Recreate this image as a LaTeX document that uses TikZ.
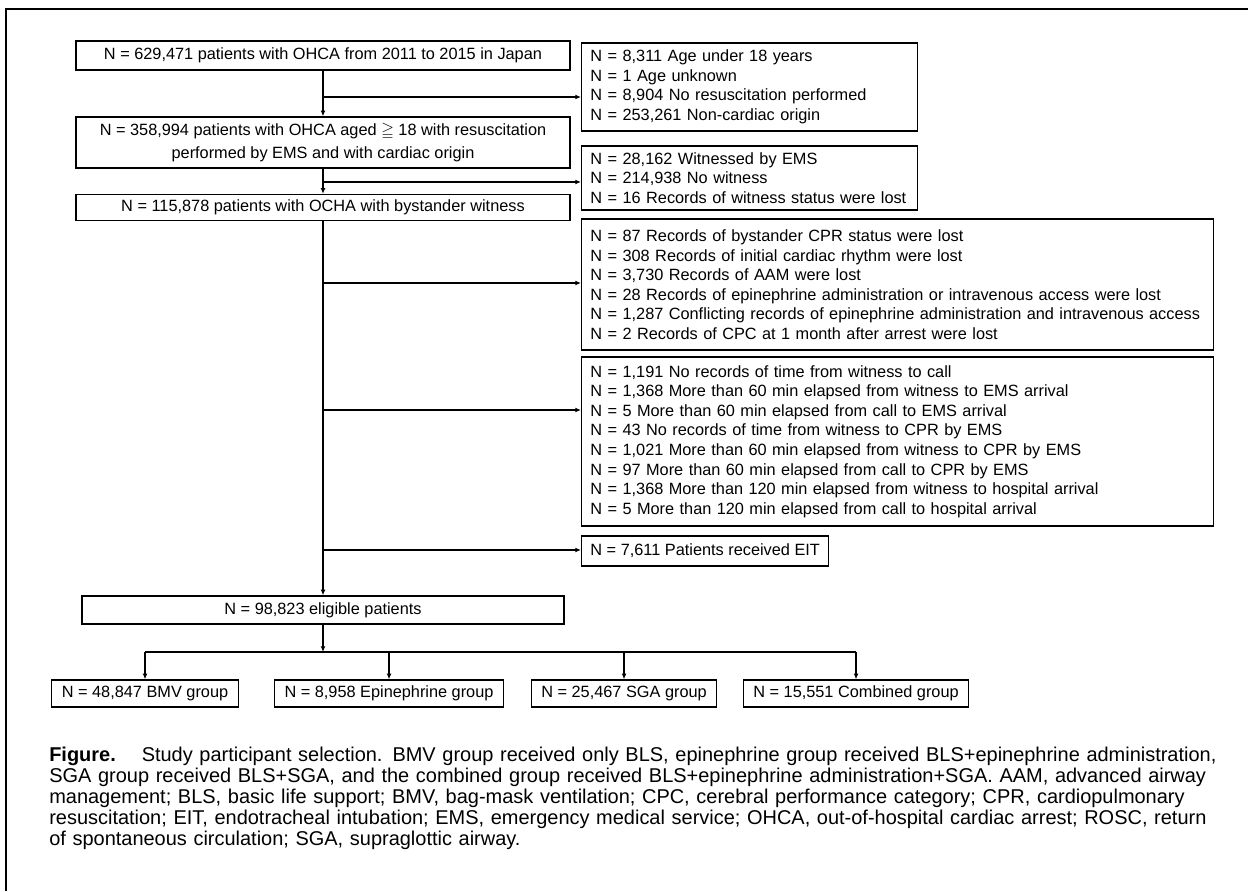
\documentclass[tikz,border=0pt]{standalone}
\usepackage{amsmath,amssymb}
\usepackage{fontspec}
\setmainfont{Liberation Sans}
\usetikzlibrary{arrows.meta}
\newcommand{\flowfont}{\fontsize{11.6pt}{13.9pt}\selectfont}
\newcommand{\legendfont}{\fontsize{14.2pt}{14.94pt}\selectfont}
\newcommand{\capline}[1]{\makebox[29.075cm][s]{#1}}
\tikzset{
  stage/.style={draw, line width=0.9pt, font=\flowfont, align=center, inner sep=0pt, minimum height=0.7cm},
  drop/.style={draw, line width=0.9pt, font=\flowfont, align=left, anchor=west, inner xsep=0.22cm, inner ysep=0pt},
  grp/.style={draw, line width=0.9pt, font=\flowfont, inner xsep=0.25cm, minimum height=0.675cm},
  link/.style={line width=0.8pt, -{Latex[length=4pt,width=3.4pt]}}
}
\begin{document}
\begin{tikzpicture}
  \useasboundingbox (0,0) rectangle (31.2,22.275);
  % frame
  \draw[line width=1.8pt] (31.2,22.05) -- (0.15,22.05) -- (0.15,0);
  % main column
  \node[stage, minimum width=12.35cm, minimum height=0.725cm] (all) at (8.075,20.8875) {N = 629,471 patients with OHCA from 2011 to 2015 in Japan};
  \node[stage, minimum width=12.35cm, minimum height=1.275cm] (adult) at (8.075,18.7125) {N = 358,994 patients with OHCA aged $\geqq$ 18 with resuscitation\\[3pt] performed by EMS and with cardiac origin};
  \node[stage, minimum width=12.35cm, minimum height=0.65cm] (witn) at (8.075,17.0875) {N = 115,878 patients with OCHA with bystander witness};
  \node[stage, minimum width=12.05cm] (elig) at (8.075,7.025) {N = 98,823 eligible patients};
  % exclusions
  \node[drop, text width=7.95cm, minimum height=2.2cm] (ex1) at (14.525,20.1) {N = 8,311 Age under 18 years\\ N = 1 Age unknown\\ N = 8,904 No resuscitation performed\\ N = 253,261 Non-cardiac origin};
  \node[drop, text width=7.95cm, minimum height=1.6cm] (ex2) at (14.525,17.825) {N = 28,162 Witnessed by EMS\\ N = 214,938 No witness\\ N = 16 Records of witness status were lost};
  \node[drop, text width=15.36cm, minimum height=3.275cm] (ex3) at (14.525,15.1625) {N = 87 Records of bystander CPR status were lost\\ N = 308 Records of initial cardiac rhythm were lost\\ N = 3,730 Records of AAM were lost\\ N = 28 Records of epinephrine administration or intravenous access were lost\\ N = 1,287 Conflicting records of epinephrine administration and intravenous access\\ N = 2 Records of CPC at 1 month after arrest were lost};
  \node[drop, text width=15.36cm, minimum height=4.225cm] (ex4) at (14.525,11.2375) {N = 1,191 No records of time from witness to call\\ N = 1,368 More than 60 min elapsed from witness to EMS arrival\\ N = 5 More than 60 min elapsed from call to EMS arrival\\ N = 43 No records of time from witness to CPR by EMS\\ N = 1,021 More than 60 min elapsed from witness to CPR by EMS\\ N = 97 More than 60 min elapsed from call to CPR by EMS\\ N = 1,368 More than 120 min elapsed from witness to hospital arrival\\ N = 5 More than 120 min elapsed from call to hospital arrival};
  \node[drop, minimum height=0.75cm] (eit) at (14.525,8.5) {N = 7,611 Patients received EIT};
  % groups
  \node[grp] (bmv) at (3.625,4.9375) {N = 48,847 BMV group};
  \node[grp] (epi) at (9.725,4.9375) {N = 8,958 Epinephrine group};
  \node[grp] (sga) at (15.6,4.9375) {N = 25,467 SGA group};
  \node[grp] (comb) at (21.4,4.9375) {N = 15,551 Combined group};
  % connectors
  \draw[link] (all) -- (adult);
  \draw[link] (adult) -- (witn);
  \draw[link] (witn) -- (elig);
  \coordinate (j1) at (8.075,19.85);
  \coordinate (j2) at (8.075,17.725);
  \coordinate (j3) at (8.075,15.2);
  \coordinate (j4) at (8.075,12.025);
  \coordinate (j5) at (8.075,8.525);
  \draw[link] (j1) -- (j1 -| ex1.west);
  \draw[link] (j2) -- (j2 -| ex2.west);
  \draw[link] (j3) -- (j3 -| ex3.west);
  \draw[link] (j4) -- (j4 -| ex4.west);
  \draw[link] (j5) -- (j5 -| eit.west);
  \coordinate (split) at (8.075,5.975);
  \draw[link] (elig) -- (split);
  \draw[line width=0.8pt] (split -| bmv) -- (split -| comb);
  \foreach \g in {bmv,epi,sga,comb}
    \draw[link] (split -| \g) -- (\g);
  % caption
  \node[anchor=north west, inner sep=0pt, text width=29.075cm, align=left, font=\legendfont] (cap) at (1.225,3.6)
    {\capline{\textbf{Figure.}\hspace{0.8em} Study participant selection. BMV group received only BLS, epinephrine group received BLS+epinephrine administration,}\\
     \capline{SGA group received BLS+SGA, and the combined group received BLS+epinephrine administration+SGA. AAM, advanced airway}\\
     \capline{management; BLS, basic life support; BMV, bag-mask ventilation; CPC, cerebral performance category; CPR, cardiopulmonary}\\
     \capline{resuscitation; EIT, endotracheal intubation; EMS, emergency medical service; OHCA, out-of-hospital cardiac arrest; ROSC, return}\\
     of spontaneous circulation; SGA, supraglottic airway.};
\end{tikzpicture}
\end{document}
